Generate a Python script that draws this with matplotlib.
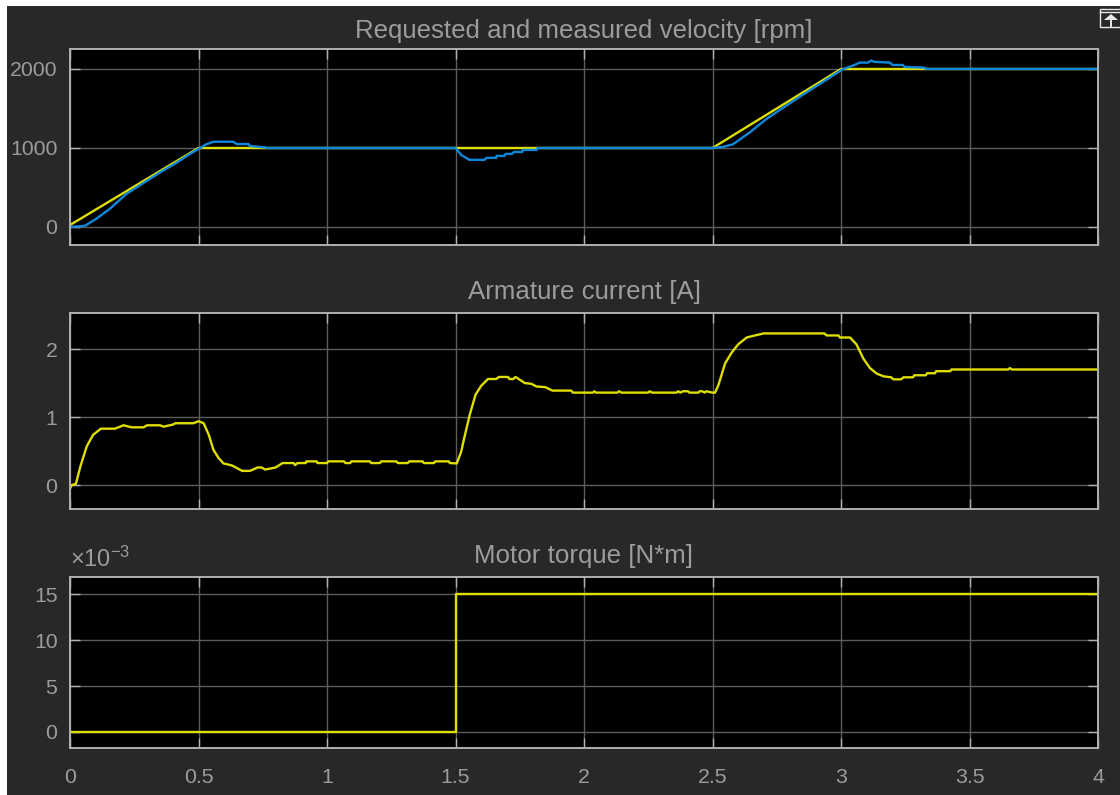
#!/usr/bin/env python3

import matplotlib
matplotlib.use("Agg")
import matplotlib.pyplot as plt
from matplotlib.patches import Polygon, Rectangle

# requested velocity [rpm].
req_t = [0.0, 0.5, 1.5, 2.5, 3.0, 4.0]
req_v = [25, 1000, 1000, 1000, 2000, 2000]

# measured velocity [rpm].
meas_t = [0.0, 0.058, 0.104, 0.156, 0.22, 0.285, 0.35, 0.415, 0.467, 0.506, 0.53, 0.558, 0.635, 0.648, 0.694, 0.70, 0.76, 0.765,
          1.5, 1.522, 1.554, 1.613, 1.62, 1.658, 1.66, 1.69, 1.695, 1.72, 1.727, 1.76, 1.762, 1.816, 1.82,
          2.5, 2.54, 2.58, 2.645, 2.71, 2.775, 2.84, 2.905, 2.97, 3.008, 3.047, 3.073, 3.105, 3.118, 3.13, 3.19, 3.20, 3.24, 3.248, 3.326, 3.33, 4.0]
meas_v = [0, 15, 108, 233, 420, 555, 690, 815, 925, 1000, 1046, 1079, 1079, 1050, 1050, 1025, 1008, 1000,
          1000, 912, 850, 850, 875, 875, 900, 900, 925, 925, 950, 950, 975, 975, 1000,
          1000, 1013, 1047, 1197, 1368, 1510, 1650, 1785, 1920, 2000, 2043, 2081, 2081, 2107, 2090, 2081, 2051, 2051, 2026, 2017, 2000, 2000]

# armature current [A].
curr_t = [0.0, 0.006, 0.023, 0.04, 0.065, 0.09, 0.12, 0.175, 0.208, 0.24, 0.286, 0.3, 0.35, 0.364, 0.4, 0.41, 0.48, 0.5, 0.52, 0.54, 0.558, 0.578, 0.597, 0.63, 0.67, 0.70, 0.73, 0.745, 0.76, 0.80,
          0.827, 0.87, 0.876, 0.885, 0.917, 0.92, 0.96, 0.963, 1.0, 1.005, 1.066, 1.072, 1.09, 1.095, 1.167, 1.172, 1.206, 1.211, 1.27, 1.276, 1.314, 1.32, 1.372, 1.377, 1.416, 1.421, 1.474, 1.478,
          1.505, 1.522, 1.535, 1.555, 1.578, 1.60, 1.626, 1.658, 1.669, 1.704, 1.71, 1.725, 1.733, 1.75, 1.77, 1.795, 1.815, 1.85, 1.877, 1.95, 1.957,
          2.035, 2.04, 2.047, 2.13, 2.136, 2.146, 2.25, 2.256, 2.265, 2.36, 2.366, 2.375, 2.385, 2.405, 2.41, 2.445, 2.45, 2.46, 2.47, 2.475, 2.50,
          2.51, 2.523, 2.549, 2.575, 2.60, 2.633, 2.665, 2.70, 2.935, 2.944, 2.99, 2.996, 3.035, 3.06, 3.087, 3.113, 3.139, 3.165, 3.195, 3.204, 3.233, 3.243,
          3.28, 3.285, 3.33, 3.335, 3.366, 3.37, 3.425, 3.43, 3.65, 3.657, 3.665, 4.0]
curr_a = [-0.05, 0.0, 0.02, 0.27, 0.57, 0.74, 0.83, 0.83, 0.88, 0.85, 0.85, 0.88, 0.88, 0.86, 0.89, 0.91, 0.91, 0.94, 0.91, 0.74, 0.52, 0.40, 0.32, 0.29, 0.21, 0.21, 0.26, 0.26, 0.23, 0.26,
          0.325, 0.325, 0.295, 0.325, 0.325, 0.35, 0.35, 0.325, 0.325, 0.35, 0.35, 0.325, 0.325, 0.35, 0.35, 0.325, 0.325, 0.35, 0.35, 0.325, 0.325, 0.35, 0.35, 0.325, 0.325, 0.35, 0.35, 0.325,
          0.32, 0.49, 0.71, 1.03, 1.33, 1.46, 1.56, 1.56, 1.59, 1.59, 1.56, 1.56, 1.59, 1.55, 1.50, 1.49, 1.45, 1.44, 1.39, 1.39, 1.36,
          1.36, 1.38, 1.36, 1.36, 1.38, 1.36, 1.36, 1.38, 1.36, 1.36, 1.38, 1.36, 1.38, 1.38, 1.36, 1.36, 1.38, 1.38, 1.36, 1.38, 1.36,
          1.36, 1.47, 1.79, 1.95, 2.07, 2.17, 2.20, 2.23, 2.23, 2.20, 2.20, 2.17, 2.17, 2.07, 1.86, 1.72, 1.64, 1.60, 1.585, 1.555, 1.555, 1.585,
          1.585, 1.615, 1.615, 1.645, 1.645, 1.675, 1.675, 1.70, 1.70, 1.72, 1.70, 1.70]

# motor torque [N*m].
torque_t = [0.0, 1.5, 1.5, 4.0]
torque_n = [0.0, 0.0, 0.015, 0.015]

# axis ticks.
x_ticks = [0, 0.5, 1, 1.5, 2, 2.5, 3, 3.5, 4]
x_labels = ["0", "0.5", "1", "1.5", "2", "2.5", "3", "3.5", "4"]
v_ticks = [0, 1000, 2000]
a_ticks = [0, 1, 2]
t_ticks = [0, 0.005, 0.01, 0.015]
t_labels = ["0", "5", "10", "15"]

W, H = 1120, 795
BG = "#282828"
TXT = "#9c9c9c"
EDGE = "#b0b0b0"
GRID = "#5c5c5c"
YELLOW = "#dede00"
BLUE = "#0f88dc"
LW = 1.7

plt.rcParams["font.family"] = ["Liberation Sans", "DejaVu Sans"]
plt.rcParams["mathtext.fontset"] = "custom"
plt.rcParams["mathtext.rm"] = "Liberation Sans"
plt.rcParams["mathtext.default"] = "regular"

# make one scope panel from its pixel box.
def make_panel(fig, top, bottom, ylim, yticks, title, title_pad):
    ax = fig.add_axes([70 / W, 1 - bottom / H, 1028 / W, (bottom - top) / H], facecolor="black")
    ax.set_xlim(0, 4)
    ax.set_ylim(*ylim)
    ax.set_xticks(x_ticks)
    ax.set_yticks(yticks)
    ax.set_xticklabels([])
    ax.grid(True, color=GRID, lw=1.0)
    ax.tick_params(axis="both", direction="in", top=True, right=True, length=7, width=1.0, color=EDGE, labelcolor=TXT, labelsize=15.3)
    ax.tick_params(axis="y", pad=9)
    ax.tick_params(axis="x", pad=14.5)
    for spine in ax.spines.values():
        spine.set_color(EDGE)
        spine.set_linewidth(1.4)
    ax.set_title(title, color=TXT, fontsize=18.6, pad=title_pad)
    return ax

fig = plt.figure(figsize=(W / 100, H / 100), dpi=100, facecolor="white")
fig.add_artist(Rectangle((7 / W, 0), 1 - 7 / W, 1 - 6 / H, transform=fig.transFigure, facecolor=BG, edgecolor="none", zorder=-5))

# velocity panel.
ax0 = make_panel(fig, 49, 245, (-228, 2253), v_ticks, "Requested and measured velocity [rpm]", 8)
ax0.plot(req_t, req_v, color=YELLOW, lw=LW)
ax0.plot(meas_t, meas_v, color=BLUE, lw=LW)

# current panel.
ax1 = make_panel(fig, 313, 509, (-0.35, 2.53), a_ticks, "Armature current [A]", 10)
ax1.plot(curr_t, curr_a, color=YELLOW, lw=LW)

# torque panel.
ax2 = make_panel(fig, 577, 748, (-0.00174, 0.01685), t_ticks, "Motor torque [N*m]", 10)
ax2.plot(torque_t, torque_n, color=YELLOW, lw=LW)
ax2.set_yticklabels(t_labels)
ax2.set_xticklabels(x_labels)
ax2.text(0.0, 1.03, r"$\times 10^{-3}$", transform=ax2.transAxes, color=TXT, fontsize=17, ha="left", va="bottom")

# undock icon in the corner.
fig.add_artist(Rectangle((1100 / W, 1 - 27 / H), 22 / W, 18 / H, transform=fig.transFigure, facecolor="none", edgecolor="#e8e8e8", lw=1.0))
fig.add_artist(plt.Line2D([1100 / W, 1120 / W], [1 - 12 / H, 1 - 12 / H], color="#e8e8e8", lw=1.0))
fig.add_artist(Polygon([(1104 / W, 1 - 20 / H), (1118 / W, 1 - 20 / H), (1111 / W, 1 - 14 / H)], transform=fig.transFigure, facecolor="#e8e8e8", edgecolor="none"))
fig.add_artist(plt.Line2D([1111 / W, 1111 / W], [1 - 26 / H, 1 - 19 / H], color="#e8e8e8", lw=1.4))

fig.savefig("out.png", dpi=100, facecolor="white")
